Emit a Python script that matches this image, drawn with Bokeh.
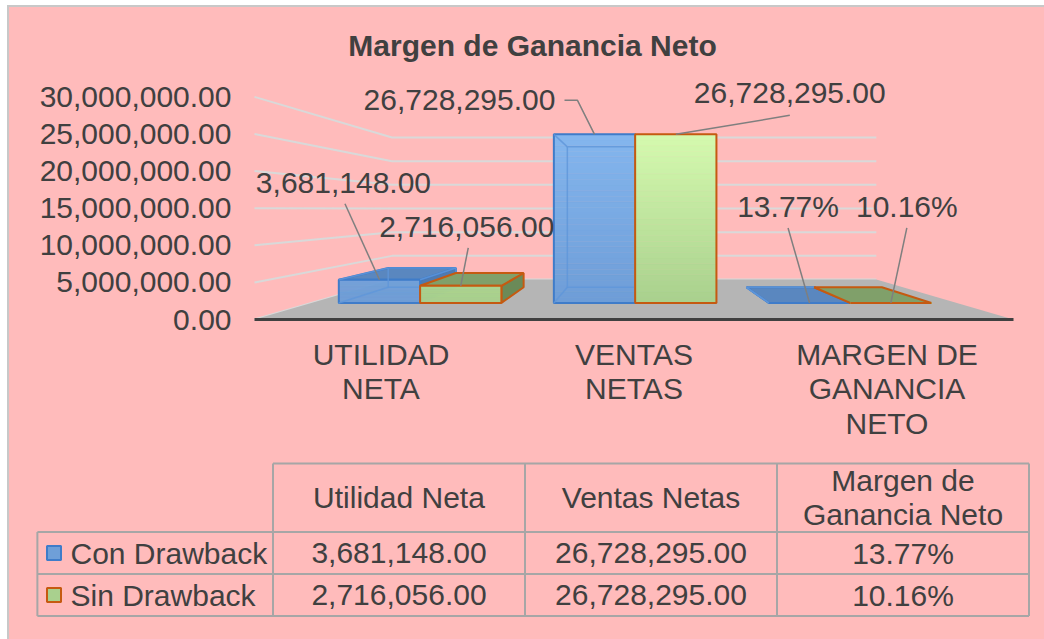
import numpy as np
from bokeh.plotting import figure
from bokeh.models import Range1d, FixedTicker, NumeralTickFormatter
from bokeh.embed import file_html
from bokeh.resources import INLINE
from bokeh.core.properties import value

# ---------------- data ----------------
chart_title = "Margen de Ganancia Neto"
categories = ["UTILIDAD\nNETA", "VENTAS\nNETAS", "MARGEN DE\nGANANCIA\nNETO"]
table_headers = ["Utilidad Neta", "Ventas Netas", "Margen de\nGanancia Neto"]
series_names = ["Con Drawback", "Sin Drawback"]
con_drawback = [3681148.00, 26728295.00, 0.1377]
sin_drawback = [2716056.00, 26728295.00, 0.1016]
value_kinds = ["amount", "amount", "percent"]
y_ticks = [0, 5000000, 10000000, 15000000, 20000000, 25000000, 30000000]

series_values = [con_drawback, sin_drawback]


def fmt(v, kind):
    if kind == "percent":
        return f"{v * 100:.2f}%"
    return f"{v:,.2f}"


# ---------------- style ----------------
FONT_NAME = "Liberation Sans"
FONT = value(FONT_NAME)
FS = "30px"
TXT = "#404040"
BG = "#ffbbbb"
GRID = "#d9d9d9"
FLOOR = "#b5b5b5"
LEADER = "#7f7f7f"
TABLE_LINE = "#a6a6a6"
BORDER = "#c8c8c8"

SERIES_STYLE = [
    dict(front_top="#84b6ee", front_bot="#6e9dd7", top="#5a87bf", side="#4f7ab0",
         line="#3f7cc9", inner="#5f96da", key="#6f9fd8"),
    dict(front_top="#d5faaf", front_bot="#a9d08d", top="#80a06a", side="#6b8a58",
         line="#c55a11", inner=None, key="#a9d08e"),
]

MARGIN_LEFT, MARGIN_TOP = 9, 7
W = 1044 - MARGIN_LEFT
TOP_H = 448
BOT_H = 639 - MARGIN_TOP - TOP_H
LEFT = 231
PXX = 253.0          # px per category unit (front plane)
PXY = 7.42e-6        # px per value unit (front plane)
CAT0_FX = 140.5      # frame x of category 0 centre
ZERO_FY = 312.0      # frame y of value 0

x_start = -CAT0_FX / PXX
x_end = x_start + (W - LEFT) / PXX
y_top = ZERO_FY / PXY
y_bot = -(TOP_H - ZERO_FY) / PXY


def fx(px):
    return x_start + px / PXX


def fy(py):
    return y_top - py / PXY


VPX, VPY = fx(394.0), fy(201.6)
S_FRONT, S_WALL = 1.0, 0.638
S_BAR_F, S_BAR_B = 0.85, 0.708
FLOOR_X = (-0.5, 2.5)
BAR_W, BAR_SHIFT = 0.378, 0.005


def P(x, y, s):
    return (float(VPX + s * (x - VPX)), float(VPY + s * (y - VPY)))


def lerp_hex(c0, c1, t):
    t = min(max(t, 0.0), 1.0)
    a = [int(c0[k:k + 2], 16) for k in (1, 3, 5)]
    b = [int(c1[k:k + 2], 16) for k in (1, 3, 5)]
    return "#%02x%02x%02x" % tuple(int(round(a[m] + (b[m] - a[m]) * t)) for m in range(3))


p = figure(width=W, height=TOP_H, x_range=Range1d(x_start, x_end), y_range=Range1d(y_bot, y_top),
           output_backend="svg", toolbar_location=None, x_axis_location=None,
           y_axis_location="left", min_border=0, min_border_left=LEFT,
           background_fill_color=BG, border_fill_color=BG, outline_line_color=None)
p.margin = (MARGIN_TOP, 0, 0, MARGIN_LEFT)
p.styles = {"background-color": BG,
            "box-shadow": f"-2px 0 0 0 {BORDER}, 0 -2px 0 0 {BORDER}, -2px -2px 0 0 {BORDER}"}
p.grid.visible = False
ax = p.yaxis[0]
ax.ticker = FixedTicker(ticks=y_ticks)
ax.formatter = NumeralTickFormatter(format="0,0.00")
ax.major_label_text_font = FONT_NAME
ax.major_label_text_font_size = FS
ax.major_label_text_color = TXT
ax.major_tick_out = 0
ax.major_tick_in = 0
ax.minor_tick_out = 0
ax.minor_tick_in = 0
ax.axis_line_color = None
ax.major_label_standoff = 9

# gridlines on side and back walls
gx, gy = [], []
for v in y_ticks:
    a = P(FLOOR_X[0], v, S_FRONT)
    b = P(FLOOR_X[0], v, S_WALL)
    c = P(FLOOR_X[1], v, S_WALL)
    gx.append([a[0], b[0], c[0]])
    gy.append([a[1], b[1], c[1]])
p.multi_line(gx, gy, line_color=GRID, line_width=2)

# floor
corners = [P(FLOOR_X[0], 0, S_FRONT), P(FLOOR_X[1], 0, S_FRONT),
           P(FLOOR_X[1], 0, S_WALL), P(FLOOR_X[0], 0, S_WALL)]
p.patch([c[0] for c in corners], [c[1] for c in corners], fill_color=FLOOR, line_color=None)
a0, a1 = P(FLOOR_X[0], 0, S_FRONT), P(FLOOR_X[1], 0, S_FRONT)
p.line([a0[0], a1[0]], [a0[1], a1[1]], line_color=TXT, line_width=3)

vmax = max(max(con_drawback), max(sin_drawback))


def poly(pts, fill, line, lw=2):
    p.patch([q[0] for q in pts], [q[1] for q in pts], fill_color=fill, line_color=line, line_width=lw)


for j, vals in enumerate(series_values):
    st = SERIES_STYLE[j]
    for i, v in enumerate(vals):
        xl = i + BAR_SHIFT + (j - 1) * BAR_W
        xr = xl + BAR_W
        ftl, ftr, fbr, fbl = P(xl, v, S_BAR_F), P(xr, v, S_BAR_F), P(xr, 0, S_BAR_F), P(xl, 0, S_BAR_F)
        btl, btr, bbr, bbl = P(xl, v, S_BAR_B), P(xr, v, S_BAR_B), P(xr, 0, S_BAR_B), P(xl, 0, S_BAR_B)
        if xr < VPX:
            poly([ftr, fbr, bbr, btr], st["side"], st["line"])
        if xl > VPX + 0.01:
            poly([ftl, fbl, bbl, btl], st["side"], st["line"])
        if v < VPY:
            poly([ftl, ftr, btr, btl], st["top"], st["line"])
        # front face with vertical gradient
        n = 30
        levels = np.linspace(0, v, n + 1)
        L, R, B, T, C = [], [], [], [], []
        for k in range(n):
            b0 = P(xl, levels[k], S_BAR_F)
            t0 = P(xr, levels[k + 1], S_BAR_F)
            L.append(b0[0]); R.append(t0[0]); B.append(b0[1]); T.append(t0[1])
            C.append(lerp_hex(st["front_bot"], st["front_top"], (levels[k] + levels[k + 1]) / 2 / vmax))
        p.quad(left=L, right=R, bottom=B, top=T, fill_color=C, line_color=C, line_width=0.5)
        p.quad(left=[fbl[0]], right=[fbr[0]], bottom=[fbl[1]], top=[ftl[1]],
               fill_color=None, line_color=st["line"], line_width=2)
        if st["inner"] and v > 0:
            ix = [[btl[0], btr[0], bbr[0], bbl[0], btl[0]],
                  [ftl[0], btl[0]], [fbl[0], bbl[0]], [ftr[0], btr[0]], [fbr[0], bbr[0]]]
            iy = [[btl[1], btr[1], bbr[1], bbl[1], btl[1]],
                  [ftl[1], btl[1]], [fbl[1], bbl[1]], [ftr[1], btr[1]], [fbr[1], bbr[1]]]
            p.multi_line(ix, iy, line_color=st["inner"], line_width=1.5, line_alpha=0.8)

# data labels with leader lines
LABEL_OFFSETS = [[(-36, -97), (-135, -34), (-21.5, -96)],
                 [(6, -59), (114, -41.5), (16, -96)]]
LEADER_FROM = [[[(1.5, 21)], [(105, 0), (118, 0)], [(0, 21)]],
               [[(1.5, 21)], [(0, 22.5)], [(0, 21)]]]
lab_x, lab_y, lab_t, lx, ly = [], [], [], [], []
for j, vals in enumerate(series_values):
    for i, v in enumerate(vals):
        xl = i + BAR_SHIFT + (j - 1) * BAR_W
        anc = P(xl + BAR_W / 2, v, S_BAR_F)
        dx, dy = LABEL_OFFSETS[j][i]
        cx, cy = anc[0] + dx / PXX, anc[1] - dy / PXY
        lab_x.append(cx); lab_y.append(cy); lab_t.append(fmt(v, value_kinds[i]))
        pts = [(cx + ddx / PXX, cy - ddy / PXY) for ddx, ddy in LEADER_FROM[j][i]] + [anc]
        lx.append([q[0] for q in pts]); ly.append([q[1] for q in pts])
p.multi_line(lx, ly, line_color=LEADER, line_width=1.5)
p.text(x=lab_x, y=lab_y, text=lab_t, text_font=FONT, text_font_size=FS, text_color=TXT,
       text_align="center", text_baseline="middle")

# category labels under the floor
p.text(x=list(range(len(categories))), y=[fy(ZERO_FY + 18)] * len(categories), text=categories,
       text_font=FONT, text_font_size=FS, text_color=TXT, text_align="center",
       text_baseline="top", text_line_height=1.05)

# title
p.text(x=[fx(292)], y=[fy(38)], text=[chart_title], text_font=FONT, text_font_size=FS,
       text_font_style="bold", text_color=TXT, text_align="center", text_baseline="middle")

# ---------------- data table ----------------
BXP, BYP = 252.0, 42.0
COL0_FX, ROW1_FY = 389.5, 97.5
bx0 = -COL0_FX / BXP
bx1 = bx0 + W / BXP
by_top = 1 - ROW1_FY / BYP
by_bot = by_top + BOT_H / BYP

t = figure(width=W, height=BOT_H, x_range=Range1d(bx0, bx1), y_range=Range1d(by_bot, by_top),
           output_backend="svg", toolbar_location=None, x_axis_location=None, y_axis_location=None,
           min_border=0, background_fill_color=BG, border_fill_color=BG, outline_line_color=None)
t.margin = (0, 0, 0, MARGIN_LEFT)
t.styles = {"background-color": BG, "box-shadow": f"-2px 0 0 0 {BORDER}"}
t.grid.visible = False

ncol = len(table_headers)
nrow = len(series_names)
col_edges = [c - 0.5 for c in range(ncol + 1)]
row_edges = [r + 0.5 for r in range(nrow + 1)]
LABEL_COL_LEFT = -1.435
HEADER_TOP = -1.13

hx, hy = [], []
hx.append([col_edges[0], col_edges[-1]]); hy.append([HEADER_TOP, HEADER_TOP])
for r in row_edges:
    hx.append([LABEL_COL_LEFT, col_edges[-1]]); hy.append([r, r])
for c in col_edges:
    hx.append([c, c]); hy.append([HEADER_TOP, row_edges[-1]])
hx.append([LABEL_COL_LEFT, LABEL_COL_LEFT]); hy.append([row_edges[0], row_edges[-1]])
t.multi_line(hx, hy, line_color=TABLE_LINE, line_width=2)

t.text(x=list(range(ncol)), y=[(HEADER_TOP + row_edges[0]) / 2] * ncol, text=table_headers,
       text_font=FONT, text_font_size=FS, text_color=TXT, text_align="center",
       text_baseline="middle", text_line_height=1.04)

vx, vy, vt = [], [], []
for j, vals in enumerate(series_values):
    for i, v in enumerate(vals):
        vx.append(i); vy.append(j + 1); vt.append(fmt(v, value_kinds[i]))
t.text(x=vx, y=vy, text=vt, text_font=FONT, text_font_size=FS, text_color=TXT,
       text_align="center", text_baseline="middle")

t.text(x=[-1.3036] * nrow, y=[r + 1 for r in range(nrow)], text=series_names, text_font=FONT,
       text_font_size=FS, text_color=TXT, text_align="left", text_baseline="middle")
t.rect(x=[-1.369] * nrow, y=[r + 1 for r in range(nrow)], width=14, height=14,
       width_units="screen", height_units="screen",
       fill_color=[s["key"] for s in SERIES_STYLE], line_color=[s["line"] for s in SERIES_STYLE],
       line_width=2)

open("out.html", "w").write(file_html([p, t], INLINE))
